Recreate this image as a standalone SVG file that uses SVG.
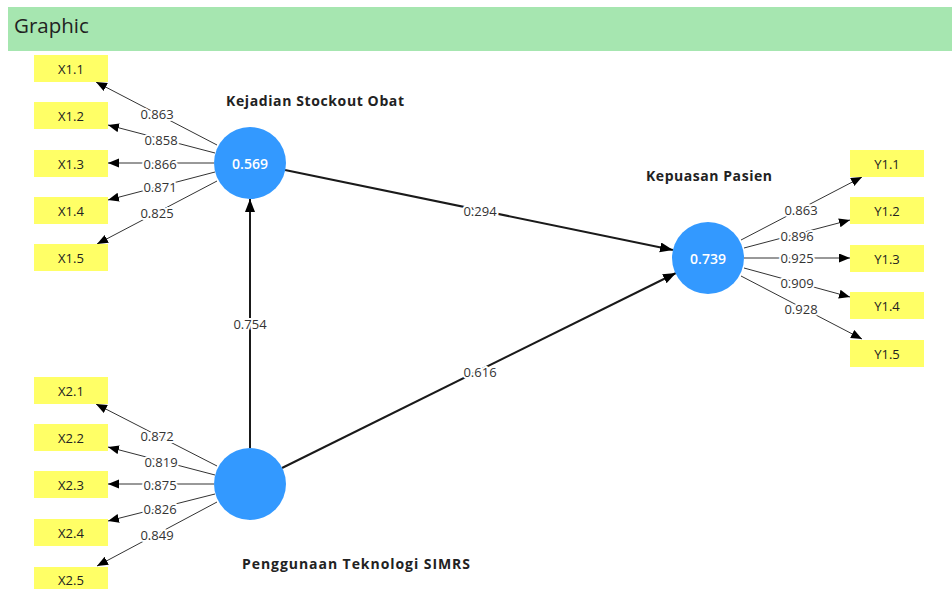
<svg xmlns="http://www.w3.org/2000/svg" width="952" height="589" viewBox="0 0 952 589">
  <style>
    .hdr { fill: #a6e6b0; }
    .hdr-t { font-family: "Open Sans", "Liberation Sans", sans-serif; font-size: 20.5px; fill: #222; }
    .ind rect { fill: #ffff66; }
    .ind text { font-family: "Open Sans", "Liberation Sans", sans-serif; font-size: 13px; fill: #222; text-anchor: middle; dominant-baseline: central; }
    .lv circle { fill: #3399ff; }
    .lv .val { font-family: "Open Sans", "Liberation Sans", sans-serif; font-size: 14px; font-weight: 600; fill: #fff; text-anchor: middle; dominant-baseline: central; }
    .lv .name { font-family: "Open Sans", "Liberation Sans", sans-serif; font-size: 14px; font-weight: 700; fill: #222; dominant-baseline: central; }
    .meas { stroke: #333; stroke-width: 1; fill: none; marker-end: url(#ah-s); }
    .path { stroke: #1a1a1a; stroke-width: 2; fill: none; marker-end: url(#ah-l); }
    .lbl { font-family: "Open Sans", "Liberation Sans", sans-serif; font-size: 13px; fill: #333; text-anchor: middle; dominant-baseline: central; stroke: #fff; stroke-width: 4; paint-order: stroke; stroke-linejoin: round; }
  </style>
  <defs>
    <marker id="ah-s" markerUnits="userSpaceOnUse" markerWidth="12" markerHeight="10" refX="11" refY="4.5" orient="auto">
      <path d="M0,0 L11,4.5 L0,9 Z" fill="#000"/>
    </marker>
    <marker id="ah-l" markerUnits="userSpaceOnUse" markerWidth="14" markerHeight="11" refX="13" refY="5" orient="auto">
      <path d="M0,0 L13,5 L0,10 Z" fill="#000"/>
    </marker>
  </defs>

  <!-- title bar -->
  <g id="header">
    <rect class="hdr" x="8" y="7" width="944" height="44"/>
    <text class="hdr-t" x="14" y="33">Graphic</text>
  </g>

  <!-- connectors -->
  <g id="connectors">
    <!-- outer loadings: Kejadian Stockout Obat -->
    <line class="meas" x1="217" y1="145" x2="96" y2="82"/>
    <line class="meas" x1="215" y1="153" x2="108" y2="125"/>
    <line class="meas" x1="214" y1="163" x2="108" y2="163"/>
    <line class="meas" x1="215" y1="172" x2="108" y2="200"/>
    <line class="meas" x1="217" y1="181" x2="97" y2="244"/>
    <!-- outer loadings: Penggunaan Teknologi SIMRS -->
    <line class="meas" x1="217" y1="466" x2="96" y2="404"/>
    <line class="meas" x1="215" y1="475" x2="108" y2="447"/>
    <line class="meas" x1="214" y1="484" x2="108" y2="484"/>
    <line class="meas" x1="215" y1="494" x2="108" y2="521"/>
    <line class="meas" x1="217" y1="502" x2="97" y2="566"/>
    <!-- outer loadings: Kepuasan Pasien -->
    <line class="meas" x1="741" y1="240" x2="862" y2="177"/>
    <line class="meas" x1="744" y1="248" x2="850" y2="220"/>
    <line class="meas" x1="744" y1="258" x2="850" y2="258"/>
    <line class="meas" x1="744" y1="268" x2="850" y2="297"/>
    <line class="meas" x1="741" y1="276" x2="862" y2="339"/>
    <!-- inner paths -->
    <line class="path" x1="250" y1="448" x2="250" y2="199"/>
    <line class="path" x1="285" y1="170" x2="673" y2="250"/>
    <line class="path" x1="282" y1="468" x2="676" y2="273"/>

    <text class="lbl" x="157" y="114">0.863</text>
    <text class="lbl" x="161" y="140">0.858</text>
    <text class="lbl" x="160" y="164">0.866</text>
    <text class="lbl" x="160" y="187">0.871</text>
    <text class="lbl" x="157" y="213">0.825</text>

    <text class="lbl" x="157" y="436">0.872</text>
    <text class="lbl" x="161" y="462">0.819</text>
    <text class="lbl" x="160" y="485">0.875</text>
    <text class="lbl" x="160" y="509">0.826</text>
    <text class="lbl" x="157" y="535">0.849</text>

    <text class="lbl" x="801" y="210">0.863</text>
    <text class="lbl" x="797" y="236">0.896</text>
    <text class="lbl" x="797" y="258">0.925</text>
    <text class="lbl" x="797" y="283">0.909</text>
    <text class="lbl" x="801" y="309">0.928</text>

    <text class="lbl" x="250" y="324">0.754</text>
    <text class="lbl" x="480" y="211">0.294</text>
    <text class="lbl" x="480" y="372">0.616</text>
  </g>

  <!-- latent variables -->
  <g id="kejadian-stockout-obat" class="lv">
    <circle cx="250" cy="163" r="36"/>
    <text class="val" x="250" y="163">0.569</text>
    <text class="name" x="226" y="100" textLength="178" lengthAdjust="spacing">Kejadian Stockout Obat</text>
  </g>
  <g id="penggunaan-teknologi-simrs" class="lv">
    <circle cx="250" cy="484" r="36"/>
    <text class="name" x="242" y="563" textLength="228" lengthAdjust="spacing">Penggunaan Teknologi SIMRS</text>
  </g>
  <g id="kepuasan-pasien" class="lv">
    <circle cx="708" cy="258" r="36"/>
    <text class="val" x="708" y="258">0.739</text>
    <text class="name" x="646" y="175" textLength="126" lengthAdjust="spacing">Kepuasan Pasien</text>
  </g>

  <!-- indicators -->
  <g id="X1.1" class="ind"><rect x="34" y="55" width="74" height="27"/><text x="71" y="68.5">X1.1</text></g>
  <g id="X1.2" class="ind"><rect x="34" y="102" width="74" height="27"/><text x="71" y="115.5">X1.2</text></g>
  <g id="X1.3" class="ind"><rect x="34" y="150" width="74" height="27"/><text x="71" y="163.5">X1.3</text></g>
  <g id="X1.4" class="ind"><rect x="34" y="197" width="74" height="27"/><text x="71" y="210.5">X1.4</text></g>
  <g id="X1.5" class="ind"><rect x="34" y="244" width="74" height="27"/><text x="71" y="257.5">X1.5</text></g>

  <g id="X2.1" class="ind"><rect x="34" y="377" width="74" height="27"/><text x="71" y="390.5">X2.1</text></g>
  <g id="X2.2" class="ind"><rect x="34" y="424" width="74" height="27"/><text x="71" y="437.5">X2.2</text></g>
  <g id="X2.3" class="ind"><rect x="34" y="471" width="74" height="27"/><text x="71" y="484.5">X2.3</text></g>
  <g id="X2.4" class="ind"><rect x="34" y="519" width="74" height="27"/><text x="71" y="532.5">X2.4</text></g>
  <g id="X2.5" class="ind"><rect x="34" y="567" width="74" height="27"/><text x="71" y="580">X2.5</text></g>

  <g id="Y1.1" class="ind"><rect x="850" y="150" width="74" height="27"/><text x="887" y="163.5">Y1.1</text></g>
  <g id="Y1.2" class="ind"><rect x="850" y="197" width="74" height="27"/><text x="887" y="210.5">Y1.2</text></g>
  <g id="Y1.3" class="ind"><rect x="850" y="245" width="74" height="27"/><text x="887" y="258.5">Y1.3</text></g>
  <g id="Y1.4" class="ind"><rect x="850" y="292" width="74" height="27"/><text x="887" y="305.5">Y1.4</text></g>
  <g id="Y1.5" class="ind"><rect x="850" y="340" width="74" height="27"/><text x="887" y="353.5">Y1.5</text></g>
</svg>
